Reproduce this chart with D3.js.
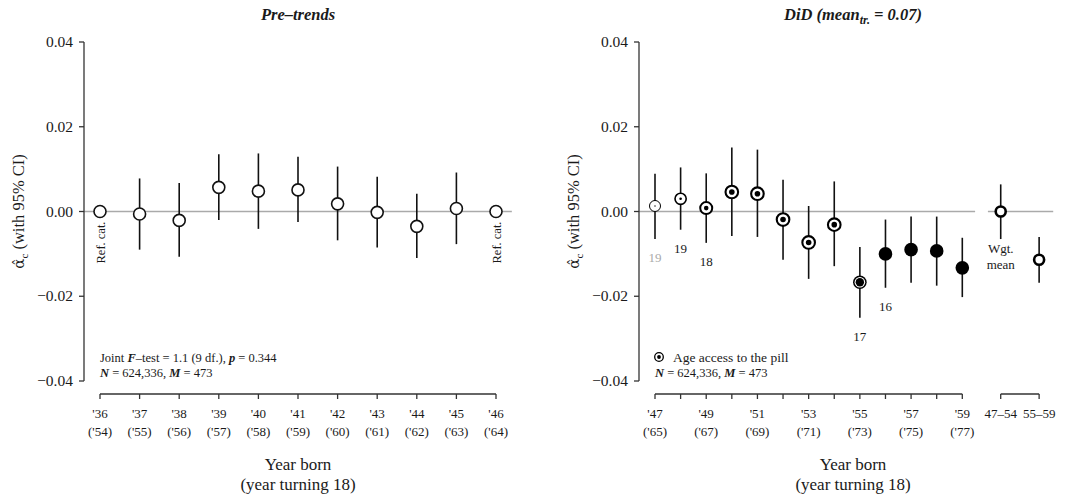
<!DOCTYPE html>
<html>
<head>
<meta charset="utf-8">
<script src="https://cdn.jsdelivr.net/npm/d3@7"></script>
<style>
  body { margin: 0; background: #fff; }
  text { font-family: "Liberation Serif", serif; fill: #1a1a1a; }
</style>
</head>
<body>
<div id="chart"></div>
<script>
// ---- data
var preYears = [36, 37, 38, 39, 40, 41, 42, 43, 44, 45, 46];
var preTurn18 = [54, 55, 56, 57, 58, 59, 60, 61, 62, 63, 64];
var preEst = [0, -0.0006, -0.0021, 0.0057, 0.0048, 0.0051, 0.0018, -0.0002, -0.0035, 0.0007, 0];
var preLo = [null, -0.0090, -0.0107, -0.0020, -0.0041, -0.0025, -0.0068, -0.0085, -0.0110, -0.0077, null];
var preHi = [null, 0.0078, 0.0067, 0.0135, 0.0137, 0.0129, 0.0106, 0.0082, 0.0042, 0.0092, null];

var didYears = [47, 48, 49, 50, 51, 52, 53, 54, 55, 56, 57, 58, 59];
var didTurn18 = [65, 66, 67, 68, 69, 70, 71, 72, 73, 74, 75, 76, 77];
var didEst = [0.0013, 0.0030, 0.0008, 0.0046, 0.0042, -0.0019, -0.0073, -0.0031, -0.0167, -0.0100, -0.0090, -0.0093, -0.0133];
var didLo = [-0.0065, -0.0043, -0.0074, -0.0058, -0.0060, -0.0114, -0.0159, -0.0129, -0.0251, -0.0180, -0.0168, -0.0175, -0.0202];
var didHi = [0.0089, 0.0104, 0.0090, 0.0151, 0.0146, 0.0075, 0.0013, 0.0071, -0.0084, -0.0019, -0.0012, -0.0012, -0.0062];
// share of cohort with access to the pill, drawn as the marker type
var didMarker = ["dot0", "dot1", "dot2", "dot3", "dot3", "dot3", "dot3", "dot3", "ring", "full", "full", "full", "full"];

// age of access annotations
var ageYears = [47, 48, 49, 55, 56];
var ageText = ["19", "19", "18", "17", "16"];

var meanGroups = ["47\u201354", "55\u201359"];
var meanEst = [0.0000, -0.0114];
var meanLo = [-0.0065, -0.0168];
var meanHi = [0.0064, -0.0060];

var yTicks = [-0.04, -0.02, 0, 0.02, 0.04];

// ---- svg
var svg = d3.select("#chart").append("svg")
    .attr("width", 1078)
    .attr("height", 501);

var y = d3.scaleLinear().domain([-0.04, 0.04]).range([381, 42]);
var fmt = d3.format(".2f");

function yAxis(x0) {
    var g = svg.append("g").attr("transform", "translate(" + x0 + ",0)");
    g.append("line")
        .attr("x1", 0).attr("x2", 0)
        .attr("y1", y(-0.04)).attr("y2", y(0.04))
        .attr("stroke", "#333").attr("stroke-width", 1.3);
    yTicks.forEach(function(t) {
        g.append("line")
            .attr("x1", -5).attr("x2", 0)
            .attr("y1", y(t)).attr("y2", y(t))
            .attr("stroke", "#333").attr("stroke-width", 1.3);
        g.append("text")
            .attr("x", -11).attr("y", y(t) + 5)
            .attr("text-anchor", "end")
            .attr("font-size", 15.5)
            .text(fmt(t));
    });
    var lab = g.append("text")
        .attr("transform", "translate(-60," + y(0) + ") rotate(-90)")
        .attr("text-anchor", "middle")
        .attr("font-size", 16.5);
    lab.append("tspan").style("font-family", "DejaVu Serif").attr("font-size", 15).text("\u03B1\u0302");
    lab.append("tspan").attr("font-size", 11).attr("dy", 4).text("c");
    lab.append("tspan").attr("dy", -4).text(" (with 95% CI)");
}

function xAxisLine(xs, x1, x2) {
    svg.append("line")
        .attr("x1", x1).attr("x2", x2)
        .attr("y1", 394).attr("y2", 394)
        .attr("stroke", "#333").attr("stroke-width", 1.3);
    xs.forEach(function(v) {
        svg.append("line")
            .attr("x1", v).attr("x2", v)
            .attr("y1", 394).attr("y2", 399)
            .attr("stroke", "#333").attr("stroke-width", 1.3);
    });
}

function xTitle(cx) {
    svg.append("text").attr("x", cx).attr("y", 470)
        .attr("text-anchor", "middle").attr("font-size", 17).text("Year born");
    svg.append("text").attr("x", cx).attr("y", 490)
        .attr("text-anchor", "middle").attr("font-size", 17).text("(year turning 18)");
}

function ci(x, lo, hi) {
    svg.append("line")
        .attr("x1", x).attr("x2", x)
        .attr("y1", y(lo)).attr("y2", y(hi))
        .attr("stroke", "#111").attr("stroke-width", 1.6);
}

// ================= LEFT: Pre-trends
var xL = d3.scaleLinear().domain([36, 46]).range([100, 496]);

svg.append("line")
    .attr("x1", 84).attr("x2", xL(46.4))
    .attr("y1", y(0)).attr("y2", y(0))
    .attr("stroke", "#aaa").attr("stroke-width", 1.3);

yAxis(84);
xAxisLine(preYears.map(function(d) { return xL(d); }), xL(36), xL(46));

preYears.forEach(function(yr, i) {
    var tx = svg.append("text").attr("text-anchor", "middle").attr("font-size", 13);
    tx.append("tspan").attr("x", xL(yr)).attr("y", 418).text("'" + yr);
    tx.append("tspan").attr("x", xL(yr)).attr("y", 436).text("('" + preTurn18[i] + ")");
    if (preLo[i] !== null) ci(xL(yr), preLo[i], preHi[i]);
    svg.append("circle")
        .attr("cx", xL(yr)).attr("cy", y(preEst[i])).attr("r", 6)
        .attr("fill", "#fff").attr("stroke", "#111").attr("stroke-width", 1.6);
    if (preLo[i] === null) {
        svg.append("text")
            .attr("transform", "translate(" + (xL(yr) + 4.5) + "," + (y(0) + 10) + ") rotate(-90)")
            .attr("text-anchor", "end")
            .attr("font-size", 12.5)
            .text("Ref. cat.");
    }
});

var note = svg.append("text").attr("x", 100).attr("y", 362).attr("font-size", 12.5);
note.append("tspan").text("Joint ");
note.append("tspan").attr("font-weight", "bold").attr("font-style", "italic").text("F");
note.append("tspan").text("\u2013test = 1.1 (9 df.), ");
note.append("tspan").attr("font-weight", "bold").attr("font-style", "italic").text("p");
note.append("tspan").text(" = 0.344");
var note2 = svg.append("text").attr("x", 100).attr("y", 377).attr("font-size", 12.5);
note2.append("tspan").attr("font-weight", "bold").attr("font-style", "italic").text("N");
note2.append("tspan").text(" = 624,336, ");
note2.append("tspan").attr("font-weight", "bold").attr("font-style", "italic").text("M");
note2.append("tspan").text(" = 473");

xTitle(298);

svg.append("text").attr("x", 298).attr("y", 20)
    .attr("text-anchor", "middle").attr("font-size", 16.5)
    .attr("font-weight", "bold").attr("font-style", "italic")
    .text("Pre\u2013trends");

// ================= RIGHT: DiD
var xR = d3.scaleLinear().domain([47, 59]).range([655, 962.3]);
var meanX = meanGroups.map(function(d, i) { return xR(59 + 1.5 * (i + 1)); });

svg.append("line")
    .attr("x1", 639).attr("x2", xR(59.5))
    .attr("y1", y(0)).attr("y2", y(0))
    .attr("stroke", "#aaa").attr("stroke-width", 1.3);
svg.append("line")
    .attr("x1", xR(60)).attr("x2", xR(62.55))
    .attr("y1", y(0)).attr("y2", y(0))
    .attr("stroke", "#aaa").attr("stroke-width", 1.3);

yAxis(639);
xAxisLine(didYears.map(function(d) { return xR(d); }), xR(47), xR(59));
xAxisLine(meanX, meanX[0], meanX[1]);

function marker(x, v, type) {
    var cy = y(v);
    if (type === "full") {
        svg.append("circle").attr("cx", x).attr("cy", cy).attr("r", 6.8).attr("fill", "#000");
    } else if (type === "ring") {
        svg.append("circle").attr("cx", x).attr("cy", cy).attr("r", 6.8).attr("fill", "#000");
        svg.append("circle").attr("cx", x).attr("cy", cy).attr("r", 5.3).attr("fill", "#fff");
        svg.append("circle").attr("cx", x).attr("cy", cy).attr("r", 4.2).attr("fill", "#000");
    } else {
        var s = { dot0: [5.5, 1, 0.7], dot1: [5.6, 1.6, 1.3], dot2: [6, 2, 2.3], dot3: [6.3, 2.1, 2.8] }[type];
        svg.append("circle").attr("cx", x).attr("cy", cy).attr("r", s[0])
            .attr("fill", "#fff").attr("stroke", "#000").attr("stroke-width", s[1]);
        svg.append("circle").attr("cx", x).attr("cy", cy).attr("r", s[2]).attr("fill", "#000");
    }
}

didYears.forEach(function(yr, i) {
    ci(xR(yr), didLo[i], didHi[i]);
    marker(xR(yr), didEst[i], didMarker[i]);
    if (i % 2 === 0) {
        var tx = svg.append("text").attr("text-anchor", "middle").attr("font-size", 13);
        tx.append("tspan").attr("x", xR(yr)).attr("y", 418).text("'" + yr);
        tx.append("tspan").attr("x", xR(yr)).attr("y", 436).text("('" + didTurn18[i] + ")");
    }
});

ageYears.forEach(function(yr, i) {
    var j = didYears.indexOf(yr);
    svg.append("text")
        .attr("x", xR(yr)).attr("y", y(didLo[j]) + 23)
        .attr("text-anchor", "middle").attr("font-size", 13)
        .style("fill", i === 0 ? "#aaa" : "#1a1a1a")
        .text(ageText[i]);
});

meanGroups.forEach(function(g, i) {
    ci(meanX[i], meanLo[i], meanHi[i]);
    svg.append("circle")
        .attr("cx", meanX[i]).attr("cy", y(meanEst[i])).attr("r", 5)
        .attr("fill", "#fff").attr("stroke", "#000").attr("stroke-width", 2.6);
    svg.append("text")
        .attr("x", meanX[i]).attr("y", 418)
        .attr("text-anchor", "middle").attr("font-size", 13)
        .text(g);
});
svg.append("text").attr("x", meanX[0]).attr("y", y(meanLo[0]) + 14)
    .attr("text-anchor", "middle").attr("font-size", 13).text("Wgt.");
svg.append("text").attr("x", meanX[0]).attr("y", y(meanLo[0]) + 30)
    .attr("text-anchor", "middle").attr("font-size", 13).text("mean");

// legend
svg.append("circle").attr("cx", 659).attr("cy", 357).attr("r", 4.3)
    .attr("fill", "#fff").attr("stroke", "#000").attr("stroke-width", 1.3);
svg.append("circle").attr("cx", 659).attr("cy", 357).attr("r", 1.9).attr("fill", "#000");
svg.append("text").attr("x", 673).attr("y", 362).attr("font-size", 13.5).text("Age access to the pill");
var note3 = svg.append("text").attr("x", 655).attr("y", 377).attr("font-size", 12.5);
note3.append("tspan").attr("font-weight", "bold").attr("font-style", "italic").text("N");
note3.append("tspan").text(" = 624,336, ");
note3.append("tspan").attr("font-weight", "bold").attr("font-style", "italic").text("M");
note3.append("tspan").text(" = 473");

xTitle(853);

var t2 = svg.append("text").attr("x", 853).attr("y", 20)
    .attr("text-anchor", "middle").attr("font-size", 16.5)
    .attr("font-weight", "bold").attr("font-style", "italic");
t2.append("tspan").text("DiD (mean");
t2.append("tspan").attr("font-size", 12).attr("dy", 4).text("tr.");
t2.append("tspan").attr("dy", -4).text(" = 0.07)");
</script>
</body>
</html>
